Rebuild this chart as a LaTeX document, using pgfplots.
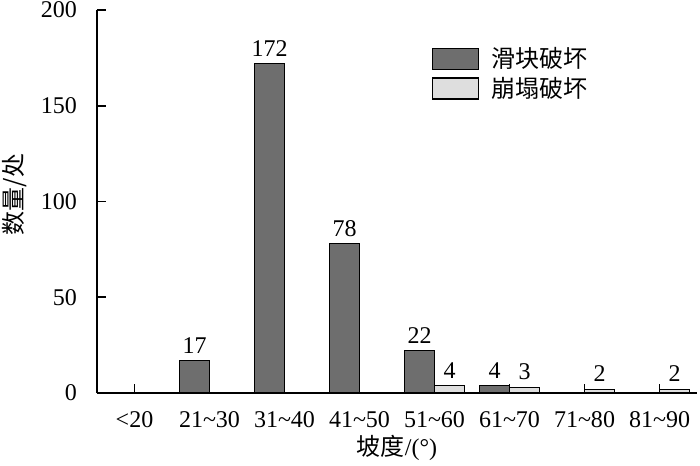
\documentclass[border=0pt]{standalone}
\usepackage{fontspec}
\setmainfont{Liberation Serif}
\newfontfamily\cjk{Noto Sans CJK SC}
\usepackage{pgfplots}
\pgfplotsset{compat=1.18}
\definecolor{darkbar}{HTML}{6E6E6E}
\definecolor{lightbar}{HTML}{DEDEDE}
\begin{document}
\begin{tikzpicture}[font=\fontsize{12}{14}\selectfont]
\begin{axis}[
  scale only axis, width=300pt, height=191.5pt,
  xmin=-0.5, xmax=7.5, ymin=0, ymax=200,
  axis lines=left,
  axis line style={-, line width=0.9pt},
  ytick={0,50,100,150,200},
  xtick={0,1,2,3,4,5,6,7},
  xticklabels={<20,21\textasciitilde30,31\textasciitilde40,41\textasciitilde50,51\textasciitilde60,61\textasciitilde70,71\textasciitilde80,81\textasciitilde90},
  tick align=inside,
  major tick length=4.5pt,
  tick style={line width=0.9pt, black},
  /pgf/number format/assume math mode=true,
  yticklabel style={anchor=east, xshift=-6.5pt},
  xticklabel style={anchor=base, yshift=-17pt},
  ylabel={\cjk 数量/处},
  ylabel style={at={(axis description cs:-0.137,0.518)}, anchor=center},
  xlabel={{\cjk 坡度}/(°)},
  xlabel style={at={(axis description cs:0.5,-0.1436)}, anchor=center},
  legend style={draw=none, fill=none, at={(0.558,0.913)}, anchor=north west, inner sep=0pt, row sep=-1pt, nodes={inner xsep=6pt}},
  legend cell align=left,
  legend image code/.code={\draw[#1, line width=0.6pt] (0pt,-5.25pt) rectangle (23pt,5.25pt);},
  nodes near coords,
  every node near coord/.append style={font=\fontsize{12}{14}\selectfont, /pgf/number format/assume math mode=true},
]
% dark bars drawn at category - 0.2, light bars at category + 0.2
\addplot[ybar, bar width=0.4, bar shift=0, fill=darkbar, draw=black, line width=0.6pt]
  coordinates {(0.8,17) (1.8,172) (2.8,78) (3.8,22) (4.8,4)};
\addlegendentry{\cjk 滑块破坏}
\addplot[ybar, bar width=0.4, bar shift=0, fill=lightbar, draw=black, line width=0.6pt]
  coordinates {(4.2,4) (5.2,3) (6.2,2) (7.2,2)};
\addlegendentry{\cjk 崩塌破坏}
\coordinate (SW) at (rel axis cs:0,0);
\coordinate (NE) at (rel axis cs:1,1);
\end{axis}
\pgfresetboundingbox
\path ([shift={(-48.5pt,-36pt)}]SW) rectangle ([shift={(1.5pt,5pt)}]NE);
\end{tikzpicture}
\end{document}
